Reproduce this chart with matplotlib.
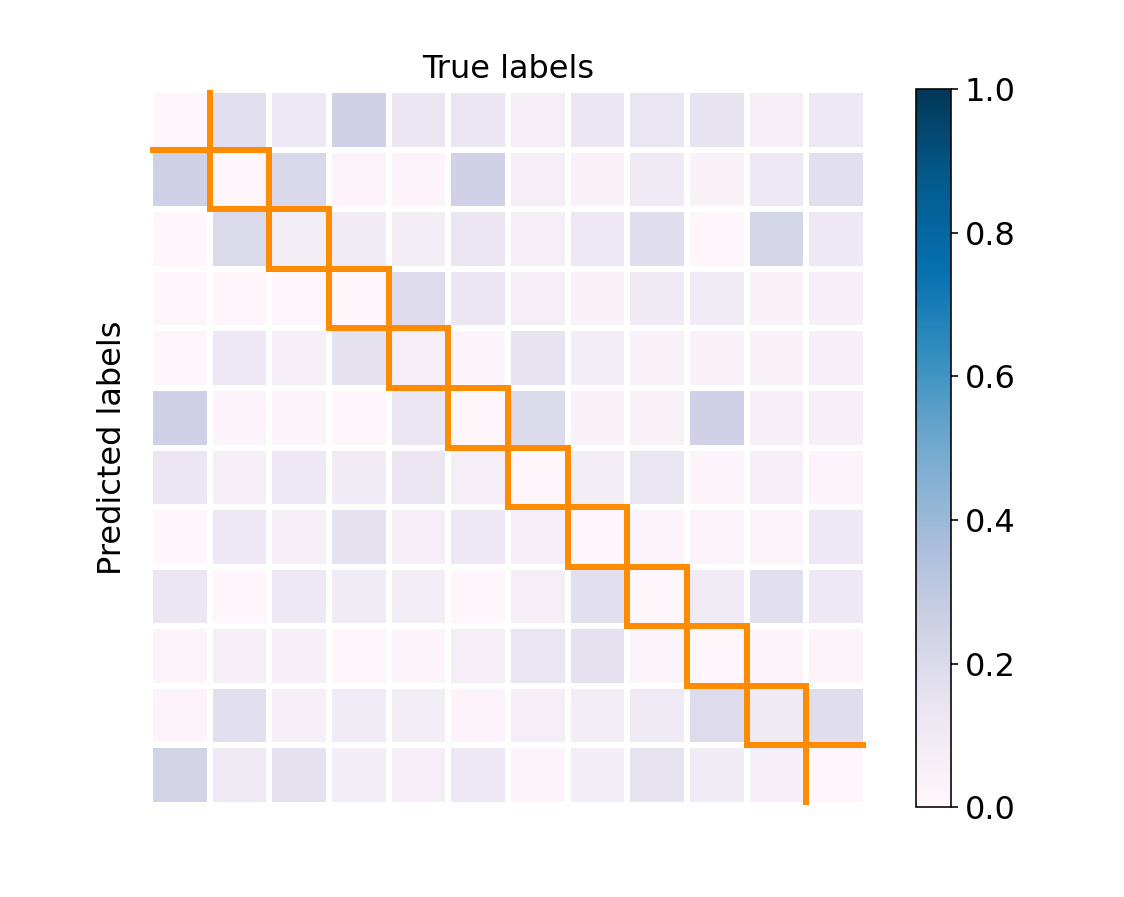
import numpy as np
import matplotlib
matplotlib.use('Agg')
import matplotlib.pyplot as plt

# normalised confusion values (rows = predicted, cols = true)
row0 = [0.01, 0.17, 0.12, 0.25, 0.13, 0.13, 0.07, 0.13, 0.14, 0.15, 0.06, 0.12]
row1 = [0.25, 0.01, 0.21, 0.02, 0.02, 0.25, 0.07, 0.05, 0.10, 0.05, 0.12, 0.17]
row2 = [0.01, 0.20, 0.08, 0.09, 0.08, 0.13, 0.07, 0.12, 0.18, 0.01, 0.23, 0.12]
row3 = [0.01, 0.01, 0.01, 0.01, 0.19, 0.13, 0.07, 0.05, 0.10, 0.09, 0.05, 0.06]
row4 = [0.01, 0.12, 0.06, 0.16, 0.07, 0.02, 0.15, 0.08, 0.05, 0.05, 0.05, 0.06]
row5 = [0.25, 0.02, 0.02, 0.01, 0.13, 0.01, 0.20, 0.05, 0.05, 0.25, 0.06, 0.06]
row6 = [0.13, 0.06, 0.12, 0.09, 0.13, 0.07, 0.01, 0.08, 0.14, 0.02, 0.06, 0.02]
row7 = [0.01, 0.12, 0.06, 0.16, 0.07, 0.12, 0.07, 0.01, 0.02, 0.02, 0.02, 0.12]
row8 = [0.13, 0.01, 0.12, 0.09, 0.08, 0.01, 0.07, 0.17, 0.01, 0.09, 0.17, 0.12]
row9 = [0.02, 0.06, 0.06, 0.01, 0.02, 0.07, 0.14, 0.16, 0.02, 0.01, 0.02, 0.02]
row10 = [0.02, 0.17, 0.06, 0.09, 0.08, 0.02, 0.07, 0.08, 0.10, 0.19, 0.10, 0.18]
row11 = [0.24, 0.11, 0.16, 0.08, 0.07, 0.12, 0.02, 0.08, 0.15, 0.09, 0.06, 0.01]

cm = np.array([row0, row1, row2, row3, row4, row5,
               row6, row7, row8, row9, row10, row11])
n = cm.shape[0]
cbar_ticks = [0.0, 0.2, 0.4, 0.6, 0.8, 1.0]

plt.rcParams['font.size'] = 16

fig = plt.figure(figsize=(1124/144, 897/144), dpi=144)
ax = fig.add_axes([0.1335, 0.1026, 0.637, 0.797])
cax = fig.add_axes([0.815, 0.1003, 0.031, 0.800])

mesh = ax.pcolormesh(np.arange(n+1)-0.5, np.arange(n+1)-0.5, cm,
                     cmap='PuBu', vmin=0, vmax=1,
                     edgecolors='white', linewidth=3)
ax.set_xlim(-0.5, n-0.5)
ax.set_ylim(n-0.5, -0.5)

# staircase around the diagonal cells
up_x, up_y, lo_x, lo_y = [], [], [], []
for i in range(n-1):
    up_x += [i+0.5, i+0.5]
    up_y += [i-0.5, i+0.5]
    lo_x += [i-0.5, i+0.5]
    lo_y += [i+0.5, i+0.5]
up_x.append(n-0.5); up_y.append(n-1.5)
lo_x.append(n-1.5); lo_y.append(n-0.5)
ax.plot(up_x, up_y, color='darkorange', linewidth=3, solid_joinstyle='miter')
ax.plot(lo_x, lo_y, color='darkorange', linewidth=3, solid_joinstyle='miter')

ax.set_xticks([])
ax.set_yticks([])
for s in ax.spines.values():
    s.set_visible(False)
ax.set_title('True labels', fontsize=16)
ax.set_ylabel('Predicted labels', labelpad=11)

cb = fig.colorbar(mesh, cax=cax, ticks=cbar_ticks)
cb.ax.tick_params(labelsize=16)

fig.savefig('out.png', dpi=144)
